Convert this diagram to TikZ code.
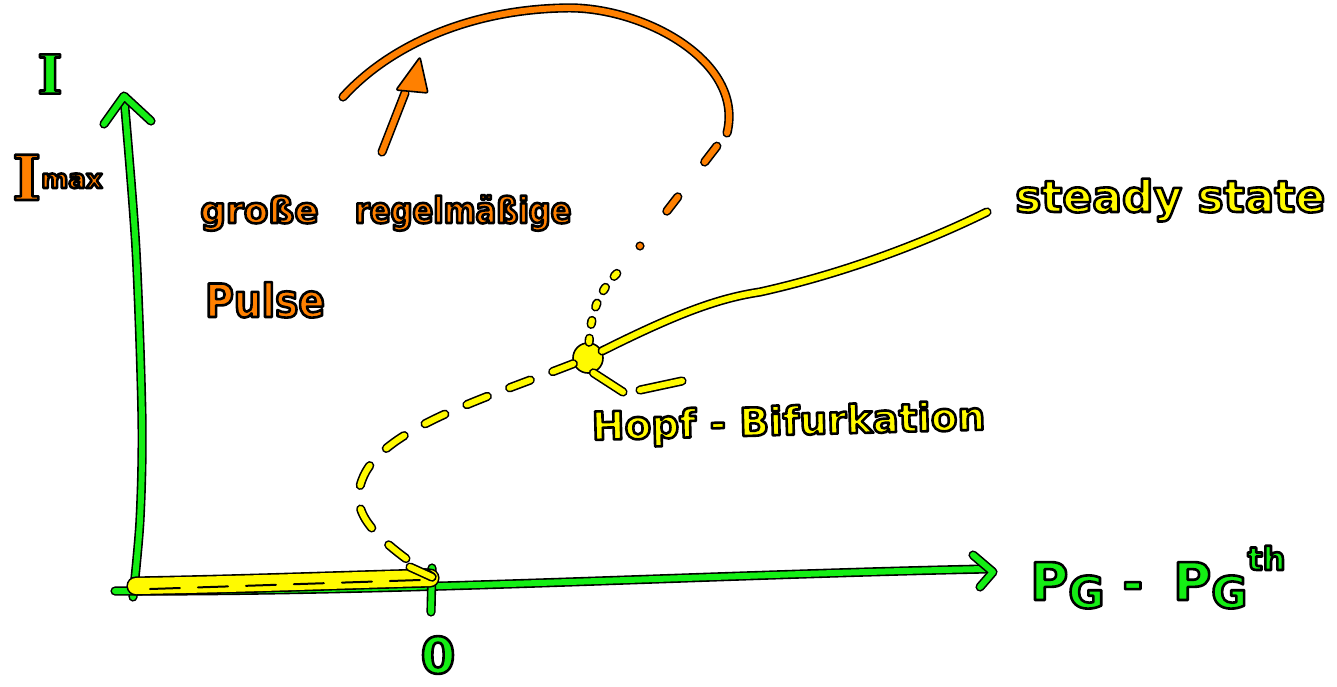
\documentclass[tikz,border=0pt]{standalone}
\usepackage{fontspec}
\newfontfamily\hand{DejaVu Sans}
\newfontfamily\handnarrow[FakeStretch=0.85]{DejaVu Sans}
\newfontfamily\handserif{DejaVu Serif}
\newcommand\penfs[1]{\fontsize{#1}{#1}\selectfont}
% glyphs filled in the current colour and stroked with a black rim
\newcommand\ol[1]{\special{pdf:literal direct 2 Tr 2.6 w 1 j 0 0 0 RG}#1\special{pdf:literal direct 0 Tr}}
\definecolor{hgreen}{RGB}{20,238,20}
\definecolor{horange}{RGB}{255,128,0}
\definecolor{hyellow}{RGB}{255,250,0}

\begin{document}
\begin{tikzpicture}[x=1pt,y=-1pt,
  inkline/.style={draw=black, double=#1, line width=1.6pt, double distance=6pt,
                  line cap=round, line join=round},
  inktext/.style={inner sep=0pt, text=#1},
]
\useasboundingbox[fill=white] (0,0) rectangle (1337,686);

% ---------- axes ----------
\coordinate (ybase) at (133,597);
\coordinate (ytip)  at (124,96);
\coordinate (xbase) at (115,591);
\coordinate (xend)  at (985,569);
\coordinate (xtip)  at (993,572);

\draw[inkline=hgreen] plot[smooth] coordinates {(133,597) (140,520) (142,420) (136,250) (124,97)};
\draw[inkline=hgreen] (ytip) ++(-20,28) -- (ytip) -- ++(27,25);
\draw[inkline=hgreen] (xbase) .. controls (400,592) and (700,575) .. (xend);
\draw[inkline=hgreen] (xtip) ++(-20,-17) -- (xtip) -- ++(-13,15);
% tick at the origin of the parameter axis
\draw[inkline=hgreen] (432,568) -- (431,612);

% ---------- stable zero state (thick band on the axis) ----------
\coordinate (zero) at (432,577);
\draw[inkline=hyellow, double distance=16pt] (136,586) .. controls (250,584) and (350,580) .. (430,578);
\draw[black, line width=2pt, line cap=round, dash pattern=on 30pt off 18pt] (150,589) -- (420,580);

% ---------- Hopf point and branches ----------
\node[circle, fill=hyellow, draw=black, line width=1.6pt, minimum size=30pt, inner sep=0pt]
  (hopf) at (588,358) {};

% labels
\node[inktext=hyellow, anchor=base west, font=\hand\bfseries\penfs{44}]
  (steady) at (1015,212) {\ol{steady state}};
\node[inktext=hyellow, anchor=base west, rotate=1.5, font=\hand\bfseries\penfs{39}]
  (hopflab) at (592,440) {\ol{Hopf - Bifurkation}};

% stable branch to the right
\draw[inkline=hyellow] (hopf) .. controls (680,312) and (720,298) .. (760,292)
  .. controls (850,272) and (930,240) .. ([xshift=-28pt]steady.base west);

% leader from the point towards its label
\coordinate (lead1) at (623,392);
\coordinate (lead2) at (640,390);
\coordinate (lead3) at (682,381);
\draw[inkline=hyellow] (hopf.-70) -- (lead1);
\draw[inkline=hyellow] (lead2) -- (lead3);

% unstable branch back to the zero state
\draw[inkline=hyellow, dash pattern=on 22pt off 24pt]
  (hopf) .. controls (480,400) and (380,430) .. (362,480)
  .. controls (350,512) and (370,535) .. (zero);
\draw[inkline=hyellow] (zero) -- ++(-22,-10);

% unstable branch upwards, turning into the pulse orbit
\coordinate (ubend)  at (625,265);
\coordinate (ustart) at (727,133);
\coordinate (uend)   at (343,97);
\draw[inkline=hyellow, dash pattern=on 4pt off 14pt]
  (hopf) .. controls (592,300) and (605,285) .. (ubend);
\draw[inkline=horange, dash pattern=on 0pt off 44pt on 18pt off 44pt on 20pt off 100pt]
  (640,246) -- (ustart);
\draw[inkline=horange] (ustart) .. controls (745,60) and (640,5) .. (563,8)
  .. controls (470,10) and (390,45) .. (uend);

% arrow towards the pulse amplitude
\coordinate (atail) at (382,152);
\coordinate (ahead) at (405,93);
\draw[inkline=horange] (atail) -- (ahead);
\filldraw[fill=horange, draw=black, line width=1.6pt, line join=round, rounded corners=2pt]
  (420,57) -- (396,90) -- (428,93) -- cycle;

% ---------- axis and curve labels ----------
\node[inktext=hgreen, font=\handserif\bfseries\penfs{54}] (ilab) at (50,74) {\ol{I}};
\node[inktext=horange, anchor=base west, font=\hand\bfseries] (imax) at (12,200)
  {\ol{{\handserif\penfs{62}I}\raisebox{12pt}{\penfs{26}max}}};
\node[inktext=hgreen, font=\hand\bfseries\penfs{50}] (zlab) at (438,655) {\ol{0}};
\node[inktext=hgreen, anchor=base west, font=\hand\bfseries] (plab) at (1030,600)
  {\ol{{\penfs{52}P}\raisebox{-8pt}{\penfs{44}G}\hspace{18pt}{\penfs{50}-}\hspace{30pt}{\penfs{52}P}\raisebox{-8pt}{\penfs{44}G}\raisebox{30pt}{\penfs{32}th}}};

\node[inktext=horange, anchor=base west, font=\bfseries\penfs{36}]
  (pulse1) at (200,223) {\ol{{\hand große}\hspace{36pt}{\handnarrow regelmäßige}}};
\node[inktext=horange, anchor=base west, font=\handnarrow\bfseries\penfs{46}]
  (pulse2) at (205,317) {\ol{Pulse}};
\end{tikzpicture}
\end{document}
